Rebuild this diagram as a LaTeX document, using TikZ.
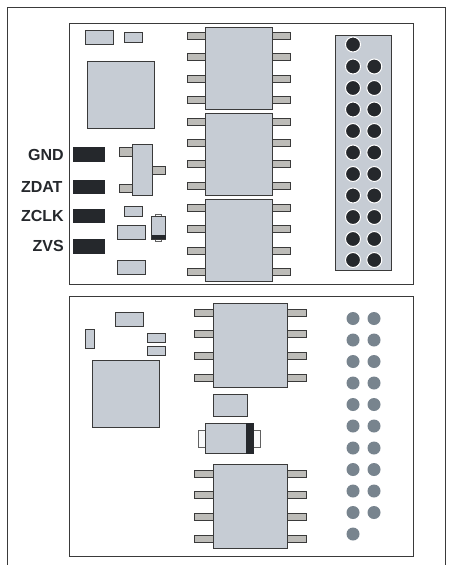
\documentclass[tikz,border=0pt]{standalone}
\usepackage{fontspec}
\setmainfont{Liberation Sans}
\definecolor{part}{HTML}{C6CCD4}
\definecolor{pinc}{HTML}{BDBCB8}
\definecolor{dark}{HTML}{25282C}
\definecolor{edge}{HTML}{3A3A3A}
\definecolor{dot}{HTML}{78848E}
\tikzset{
  panel/.style={draw=edge,line width=0.9pt,fill=white},
  partbox/.style={draw=edge,line width=0.9pt,fill=part},
  pinbox/.style={draw=edge,line width=0.9pt,fill=pinc},
  tabbox/.style={draw=edge!80,line width=0.9pt,fill=white!90!part},
  padbox/.style={fill=dark},
  hole/.style={fill=dark,draw=white,line width=1pt},
  plated/.style={fill=dot},
  lab/.style={font=\bfseries\fontsize{16}{17}\selectfont,text=dark,anchor=east,inner sep=0pt}
}
\newcommand{\icleft}[3]{\foreach \yy in {#3}{\draw[pinbox] (#1,\yy-3.5) rectangle (#2,\yy+3.5);}}
\begin{document}
\begin{tikzpicture}[x=1pt,y=-1pt]
\useasboundingbox (0,0) rectangle (448,565);
\fill[white] (0,0) rectangle (448,565);
% outer frame
\draw[edge,line width=0.9pt] (7.5,566) -- (7.5,7.5) -- (445.7,7.5) -- (445.7,566);
% top board
\draw[panel] (69.3,23.5) rectangle (413.3,284);
\draw[partbox] (85,30.5) rectangle (113,44.5);
\draw[partbox] (124,32.7) rectangle (142.3,42.3);
\draw[partbox] (87.7,61) rectangle (154.7,128.3);
\foreach \a in {147,179.5,208.5,239}{\fill[padbox] (73,\a) rectangle (105,\a+14.5);}
\node[lab] (gnd) at (64,154.5) {GND};
\node[lab] (zdat) at (62.7,186.5) {ZDAT};
\node[lab] (zclk) at (64,215.5) {ZCLK};
\node[lab] (zvs) at (64,246) {ZVS};
\draw[pinbox] (119.5,147.5) rectangle (132,156);
\draw[pinbox] (119.5,184) rectangle (132,192.5);
\draw[pinbox] (152.5,166) rectangle (165,174.5);
\draw[partbox] (132,144.5) rectangle (152.5,195.5);
\draw[partbox] (124.5,206.5) rectangle (142.5,216);
\draw[partbox] (117.5,225) rectangle (145,239);
\draw[partbox] (117.5,260.5) rectangle (145,274.5);
\draw[tabbox] (155.5,214) rectangle (161.5,241);
\draw[partbox] (151.5,216.5) rectangle (165.5,239);
\fill[dark] (151.5,234.5) rectangle (165.5,239.3);
% top ICs
\icleft{187.5}{205.5}{36,57,78.7,100,122,143,164.3,185.7,208,229.3,250.7,272}
\icleft{272.7}{290}{36,57,78.7,100,122,143,164.3,185.7,208,229.3,250.7,272}
\draw[partbox] (205.5,27) rectangle (272.7,109);
\draw[partbox] (205.5,113) rectangle (272.7,195);
\draw[partbox] (205.5,199) rectangle (272.7,281.5);
% header
\draw[partbox] (335.3,35.5) rectangle (391.5,270);
\draw[hole] (353,44.5) circle (7.5);
\foreach \yy in {66.5,88,109.5,131,152.5,174,195.5,217,239,260}{
  \draw[hole] (353,\yy) circle (7.5);
  \draw[hole] (374.3,\yy) circle (7.5);
}
% bottom board
\draw[panel] (69.3,296.3) rectangle (413.3,556.7);
\draw[partbox] (115.7,312) rectangle (143.3,326.3);
\draw[partbox] (85,329.5) rectangle (94.3,348);
\draw[partbox] (147.5,333.5) rectangle (165.7,342.5);
\draw[partbox] (147.5,346.5) rectangle (165.7,355.5);
\draw[partbox] (92.5,360.3) rectangle (159.5,427.5);
\icleft{194.5}{213.3}{312.7,334,356,378,473.5,495,517,539}
\icleft{287.3}{306.5}{312.7,334,356,378,473.5,495,517,539}
\draw[partbox] (213.3,303.3) rectangle (287.3,387.3);
\draw[partbox] (213.3,464) rectangle (287.3,548.5);
\draw[partbox] (213.3,394.7) rectangle (247.3,416.3);
\draw[tabbox] (198.5,430) rectangle (260,447);
\draw[partbox] (205,423.3) rectangle (246,453.5);
\fill[dark] (245.7,423) rectangle (254,454);
\foreach \yy in {318.5,340,361.5,383,404.5,426,448,469.5,491,512.5}{
  \fill[plated] (353,\yy) circle (6.5);
  \fill[plated] (374,\yy) circle (6.5);
}
\fill[plated] (353,534) circle (6.5);
\end{tikzpicture}
\end{document}
